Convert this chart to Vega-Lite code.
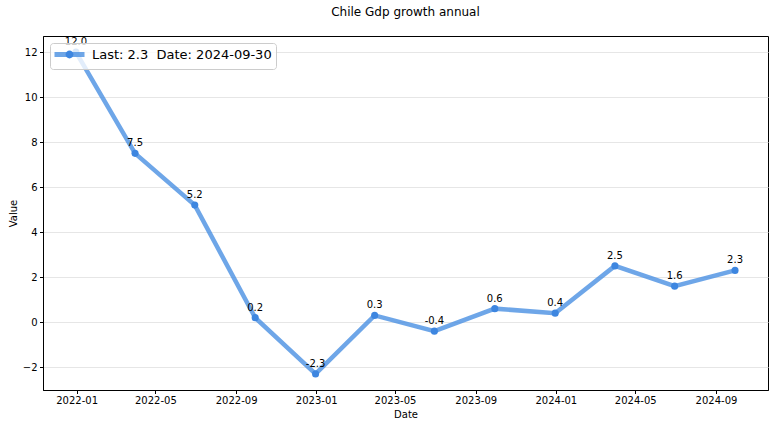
{
  "$schema": "https://vega.github.io/schema/vega-lite/v6.json",
  "width": 725,
  "height": 354,
  "autosize": "none",
  "padding": {"left": 43, "top": 36, "right": 7, "bottom": 38},
  "background": "white",
  "title": {"text": "Chile Gdp growth annual", "fontSize": 12, "font": "DejaVu Sans", "fontWeight": "normal", "color": "black", "offset": 17, "anchor": "middle"},
  "config": {
    "font": "DejaVu Sans",
    "view": {"stroke": "black", "strokeWidth": 1},
    "axis": {"domainColor": "black", "tickColor": "black", "tickSize": 3.5, "labelColor": "black", "labelFontSize": 10, "titleFontSize": 10, "titleFontWeight": "normal", "titleColor": "black", "labelFont": "DejaVu Sans", "titleFont": "DejaVu Sans"}
  },
  "data": {"values": [
    {"date": "2021-12-31", "value": 12.0, "label": "12.0", "series": "Last: 2.3\u00a0 Date: 2024-09-30"},
    {"date": "2022-03-31", "value": 7.5, "label": "7.5", "series": "Last: 2.3\u00a0 Date: 2024-09-30"},
    {"date": "2022-06-30", "value": 5.2, "label": "5.2", "series": "Last: 2.3\u00a0 Date: 2024-09-30"},
    {"date": "2022-09-30", "value": 0.2, "label": "0.2", "series": "Last: 2.3\u00a0 Date: 2024-09-30"},
    {"date": "2022-12-31", "value": -2.3, "label": "-2.3", "series": "Last: 2.3\u00a0 Date: 2024-09-30"},
    {"date": "2023-03-31", "value": 0.3, "label": "0.3", "series": "Last: 2.3\u00a0 Date: 2024-09-30"},
    {"date": "2023-06-30", "value": -0.4, "label": "-0.4", "series": "Last: 2.3\u00a0 Date: 2024-09-30"},
    {"date": "2023-09-30", "value": 0.6, "label": "0.6", "series": "Last: 2.3\u00a0 Date: 2024-09-30"},
    {"date": "2023-12-31", "value": 0.4, "label": "0.4", "series": "Last: 2.3\u00a0 Date: 2024-09-30"},
    {"date": "2024-03-31", "value": 2.5, "label": "2.5", "series": "Last: 2.3\u00a0 Date: 2024-09-30"},
    {"date": "2024-06-30", "value": 1.6, "label": "1.6", "series": "Last: 2.3\u00a0 Date: 2024-09-30"},
    {"date": "2024-09-30", "value": 2.3, "label": "2.3", "series": "Last: 2.3\u00a0 Date: 2024-09-30"}
  ]},
  "encoding": {
    "x": {"field": "date", "type": "temporal",
      "scale": {"type": "utc", "domain": [{"year": 2021, "month": 11, "date": 10, "hours": 19, "utc": true}, {"year": 2024, "month": 11, "date": 19, "hours": 5, "utc": true}]},
      "axis": {"title": "Date", "labelExpr": "utcFormat(datum.value, '%Y-%m')", "grid": false, "labelFlush": false, "labelPadding": 2, "titlePadding": 4, "labelOverlap": false,
        "values": [
          {"year": 2022, "month": 1, "date": 1, "utc": true},
          {"year": 2022, "month": 5, "date": 1, "utc": true},
          {"year": 2022, "month": 9, "date": 1, "utc": true},
          {"year": 2023, "month": 1, "date": 1, "utc": true},
          {"year": 2023, "month": 5, "date": 1, "utc": true},
          {"year": 2023, "month": 9, "date": 1, "utc": true},
          {"year": 2024, "month": 1, "date": 1, "utc": true},
          {"year": 2024, "month": 5, "date": 1, "utc": true},
          {"year": 2024, "month": 9, "date": 1, "utc": true}
        ]}},
    "y": {"field": "value", "type": "quantitative",
      "scale": {"domain": [-3.015, 12.715], "nice": false, "zero": false},
      "axis": {"title": "Value", "values": [-2, 0, 2, 4, 6, 8, 10, 12], "grid": true, "gridColor": "#e6e6e6", "gridWidth": 1, "labelPadding": 2.5, "titlePadding": 4, "labelFlush": false}}
  },
  "layer": [
    {"mark": {"type": "line", "strokeWidth": 4.5, "opacity": 0.8},
     "encoding": {"stroke": {"field": "series", "type": "nominal", "scale": {"range": ["#4a90e2"]},
       "legend": {"title": null, "orient": "none", "legendX": 7, "legendY": 7, "zindex": 1, "padding": 4, "fillColor": "rgba(255,255,255,0.8)", "strokeColor": "#cccccc", "cornerRadius": 3, "symbolType": "M-3,0H3", "symbolSize": 100, "symbolOffset": 8, "symbolStrokeWidth": 5, "symbolOpacity": 0.8, "labelFontSize": 13, "labelFont": "DejaVu Sans", "labelColor": "black", "labelOffset": 15, "labelLimit": 400}}}},
    {"mark": {"type": "point", "filled": true, "size": 50, "opacity": 1},
     "encoding": {"fill": {"field": "series", "type": "nominal", "scale": {"range": ["#3d86e0"]},
       "legend": {"title": null, "orient": "none", "legendX": 7, "legendY": 7, "zindex": 2, "padding": 4, "symbolType": "M0.78,0A0.78,0.78 0 1,1 -0.78,0A0.78,0.78 0 1,1 0.78,0Z", "symbolSize": 100, "symbolOffset": 8, "symbolStrokeWidth": 5, "symbolStrokeColor": "transparent", "symbolOpacity": 1, "labelFontSize": 13, "labelFont": "DejaVu Sans", "labelColor": "transparent", "labelOffset": 15, "labelLimit": 400}}}},
    {"mark": {"type": "text", "dy": -10, "baseline": "middle", "align": "center", "fontSize": 10, "font": "DejaVu Sans", "color": "black"},
     "encoding": {"text": {"field": "label", "type": "nominal"}}}
  ]
}
